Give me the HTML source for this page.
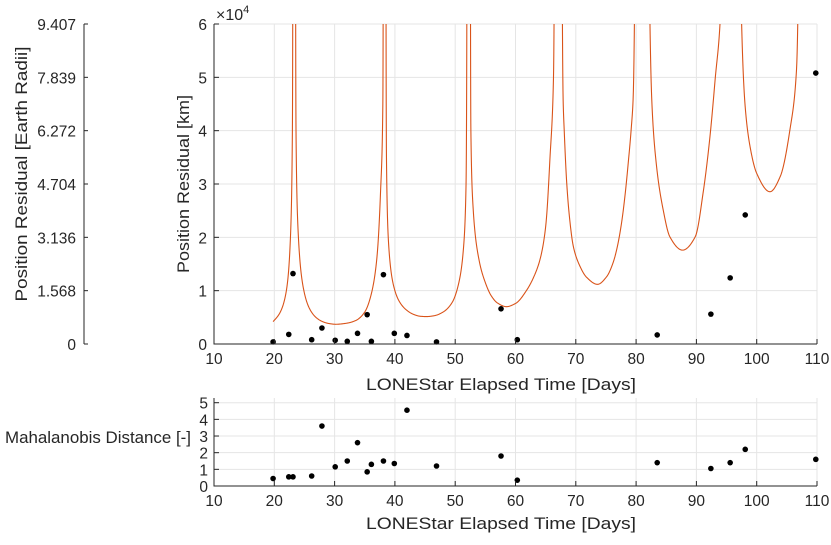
<!DOCTYPE html>
<html><head><meta charset="utf-8"><style>
html,body{margin:0;padding:0;background:#fff;}
svg text{font-family:"Liberation Sans",sans-serif;fill:#262626;}
</style></head><body>
<svg id="c" width="831" height="540" xmlns="http://www.w3.org/2000/svg"></svg>
<script>
const obsDays=[19.8,22.4,23.1,26.2,27.9,30.1,32.1,33.8,35.4,36.1,38.1,39.9,42.0,46.9,57.6,60.3,83.5,92.4,95.6,98.1,109.8];
const residualKm=[400,1800,13200,800,3000,700,500,2000,5500,500,13000,2000,1600,400,6600,800,1700,5600,12400,24200,50800];
const mahalanobis=[0.45,0.55,0.55,0.6,3.6,1.15,1.5,2.6,0.85,1.3,1.5,1.35,4.55,1.2,1.8,0.35,1.4,1.05,1.4,2.2,1.6];
const boundDays=[19.8,21,22,22.6,23.0,23.3,23.6,24,25,26,27,28,29,30.2,32,33.5,35,36,37,37.6,38.0,38.3,38.6,39,40,41,42,43,44.2,45.2,46.5,48,49.5,50.5,51.3,51.8,52.3,
52.6,53,54,55,56,57,58.5,60,61.8,63,64.1,65,65.7,66.3,67.1,
67.9,68.1,68.5,69.0,69.6,70.6,71.8,73.6,75.1,76.2,76.8,77.6,78.2,78.7,79.2,79.5,81.0,
82.3,82.6,83.4,84.5,85.6,87.7,89.8,91.1,92.25,93.1,94.0,95.8,
97.5,98.05,98.9,100,102.2,103.9,105.5,106.6,108.2];
const boundKm=[4200,6000,10000,18000,40000,1e6,40000,20000,9500,6300,4900,4200,3850,3700,3900,4400,6000,9000,16000,28000,45000,1e6,35000,18000,10000,7500,6300,5600,5200,5140,5300,6000,7800,11000,17000,30000,1e6,
40000,25000,15500,11500,9000,7700,7000,7600,10000,12500,16000,22000,34500,50000,1e6,
45750,39500,30100,23250,18250,14800,12500,11190,12600,15300,17800,22800,28250,34000,40500,45750,1e6,
60000,45750,33250,25100,20100,17600,20100,28250,38900,49500,62000,1e6,
60000,45100,37000,32000,28550,31400,40100,51400,1e6];
const xTicks=[10,20,30,40,50,60,70,80,90,100,110];
const yTicksMain=[0,1,2,3,4,5,6];
const yTicksEarth=["0","1.568","3.136","4.704","6.272","7.839","9.407"];
const yTicksBottom=[0,1,2,3,4,5];

const NS="http://www.w3.org/2000/svg";
const svg=document.getElementById('c');
function mk(tag,attrs,parent){const e=document.createElementNS(NS,tag);for(const k in attrs)e.setAttribute(k,attrs[k]);(parent||svg).appendChild(e);return e;}
const L=214,R=817,T=24,B=344;
const BT=398,BB=486,B5=402.7;
const xs=d=>L+(d-10)/100*(R-L);
const ym=v=>B-v/60000*(B-T);
const yb=v=>BB-v/5*(BB-B5);

const defs=mk('defs',{});
const cp=mk('clipPath',{id:'cl'},defs);
mk('rect',{x:L,y:T,width:R-L,height:B-T},cp);

for(const t of xTicks){const g=mk('line',{x1:xs(t),x2:xs(t),y1:T,y2:B,stroke:'#e5e5e5','stroke-width':1});

}
for(const t of yTicksMain){const g=mk('line',{x1:L,x2:R,y1:ym(t*10000),y2:ym(t*10000),stroke:'#e5e5e5','stroke-width':1});

}
for(const t of xTicks){const g=mk('line',{x1:xs(t),x2:xs(t),y1:BT,y2:BB,stroke:'#e5e5e5'});

}
for(const t of yTicksBottom){const g=mk('line',{x1:L,x2:R,y1:yb(t),y2:yb(t),stroke:'#e5e5e5'});

}

// monotone cubic (Fritsch-Carlson) in log space
const n=boundDays.length;
const Y=boundKm.map(v=>Math.log(v));
const dk=[],m=[];
for(let i=0;i<n-1;i++)dk.push((Y[i+1]-Y[i])/(boundDays[i+1]-boundDays[i]));
m[0]=dk[0];m[n-1]=dk[n-2];
for(let i=1;i<n-1;i++){
 if(dk[i-1]*dk[i]<=0)m[i]=0;
 else{const h0=boundDays[i]-boundDays[i-1],h1=boundDays[i+1]-boundDays[i];
  const w1=2*h1+h0,w2=h1+2*h0;m[i]=(w1+w2)/(w1/dk[i-1]+w2/dk[i]);}
}
let d='';
for(let i=0;i<n-1;i++){
 const x1=boundDays[i],h=boundDays[i+1]-x1;
 const steps=30;
 for(let s=(i===0?0:1);s<=steps;s++){
  const t=s/steps,t2=t*t,t3=t2*t;
  const lv=(2*t3-3*t2+1)*Y[i]+(t3-2*t2+t)*h*m[i]+(-2*t3+3*t2)*Y[i+1]+(t3-t2)*h*m[i+1];
  let y=ym(Math.exp(lv)); if(y<T-50)y=T-50;
  d+=(d?'L':'M')+xs(x1+h*t).toFixed(2)+','+y.toFixed(2);
 }
}
const curve=mk('path',{d:d,fill:'none',stroke:'#d95319','stroke-width':1.1,'clip-path':'url(#cl)'});



obsDays.forEach((x,i)=>{const p=mk('circle',{cx:xs(x),cy:ym(residualKm[i]),r:2.8,fill:'#000'});


const q=mk('circle',{cx:xs(x),cy:yb(mahalanobis[i]),r:2.8,fill:'#000'});

});

const ax=mk('path',{d:`M${L},${T}V${B}H${R}`,fill:'none',stroke:'#262626','stroke-width':1});


const ax2=mk('path',{d:`M${L},${BT}V${BB}H${R}`,fill:'none',stroke:'#262626','stroke-width':1});


for(const t of xTicks){
 mk('line',{x1:xs(t),x2:xs(t),y1:B,y2:B-5,stroke:'#262626'});
 mk('line',{x1:xs(t),x2:xs(t),y1:BB,y2:BB-5,stroke:'#262626'});
 const a=mk('text',{x:xs(t),y:B+20,'text-anchor':'middle','font-size':15.5});a.textContent=t;
 
 
 const b=mk('text',{x:xs(t),y:BB+20,'text-anchor':'middle','font-size':15.5});b.textContent=t;
 
 
}
for(const t of yTicksMain){
 mk('line',{x1:L,x2:L+5,y1:ym(t*10000),y2:ym(t*10000),stroke:'#262626'});
 const a=mk('text',{x:L-7,y:ym(t*10000)+6,'text-anchor':'end','font-size':15.5});a.textContent=t;
 
 
}
for(const t of yTicksBottom){
 mk('line',{x1:L,x2:L+5,y1:yb(t),y2:yb(t),stroke:'#262626'});
 const a=mk('text',{x:L-6,y:yb(t)+6,'text-anchor':'end','font-size':15.5});a.textContent=t;
 
 
}
const EA=84;
mk('line',{x1:EA,x2:EA,y1:T,y2:B,stroke:'#262626'});
yTicksEarth.forEach((s,i)=>{const y=ym(i*10000);
 mk('line',{x1:EA,x2:EA+4,y1:y,y2:y,stroke:'#262626'});
 const a=mk('text',{x:EA-8,y:y+6,'text-anchor':'end','font-size':15.5});a.textContent=s;
 
 });

function label(txt,x,y,rot,name,len){const a=mk('text',{x:x,y:y,'text-anchor':'middle','font-size':17,textLength:len,lengthAdjust:'spacingAndGlyphs',transform:rot?`rotate(-90 ${x} ${y})`:''});a.textContent=txt;

return a;}
label('Position Residual [Earth Radii]',27,174,true,'earth-radii-axis-title',255);
label('Position Residual [km]',189,184,true,'y-axis-title',178);
label('LONEStar Elapsed Time [Days]',501,390,false,'x-axis-title',270);
label('LONEStar Elapsed Time [Days]',501,529,false,'bottom-x-axis-title',270);
const mt=mk('text',{x:191,y:443,'text-anchor':'end','font-size':17,textLength:186,lengthAdjust:'spacingAndGlyphs'});mt.textContent='Mahalanobis Distance [-]';


const ex=mk('text',{x:216,y:20,'font-size':16});ex.innerHTML='×10<tspan dy="-7" font-size="11">4</tspan>';


</script>
</body></html>
